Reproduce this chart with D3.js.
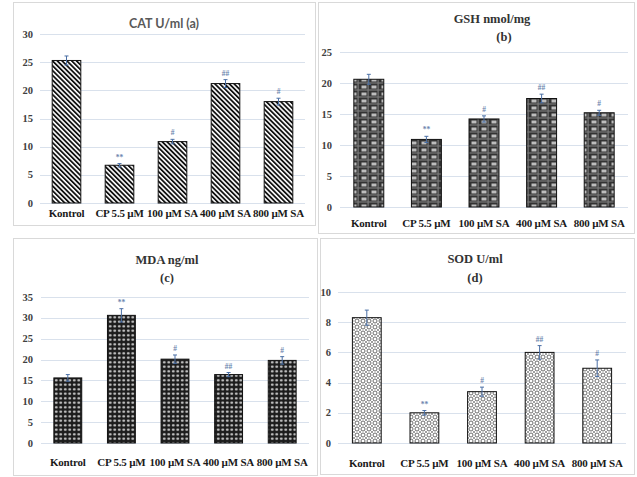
<html>
<head>
  <meta charset="utf-8">
  <title>Antioxidant panels</title>
  <script src="https://d3js.org/d3.v7.min.js"></script>
  <style>
    html, body { margin: 0; padding: 0; background: #fff; overflow: hidden; }
    svg { display: block; }
    .serif { font-family: "Liberation Serif", "Times New Roman", Times, "DejaVu Serif", serif; }
  </style>
</head>
<body>
  <svg width="637" height="477"></svg>
  <script>
    const categories = ["Kontrol", "CP 5.5 µM", "100 µM SA", "400 µM SA", "800 µM SA"];

    const catValues = [25.3, 6.7, 10.9, 21.2, 18.0];
    const catErrors = [0.8, 0.3, 0.4, 0.7, 0.6];
    const catMarks = ["", "**", "#", "##", "#"];

    const gshValues = [20.6, 10.9, 14.2, 17.5, 15.2];
    const gshErrors = [0.8, 0.5, 0.5, 0.7, 0.4];
    const gshMarks = ["", "**", "#", "##", "#"];

    const mdaValues = [15.6, 30.6, 20.1, 16.4, 19.8];
    const mdaErrors = [0.8, 1.6, 1.0, 0.5, 0.9];
    const mdaMarks = ["", "**", "#", "##", "#"];

    const sodValues = [8.3, 2.0, 3.4, 6.0, 4.95];
    const sodErrors = [0.5, 0.15, 0.3, 0.45, 0.55];
    const sodMarks = ["", "**", "#", "##", "#"];

    const svg = d3.select("svg");
    const defs = svg.append("defs");

    // stripes "\\" for CAT
    const pStripe = defs.append("pattern")
      .attr("id", "stripe")
      .attr("patternUnits", "userSpaceOnUse")
      .attr("width", 3.4).attr("height", 3.4)
      .attr("patternTransform", "rotate(-45)");
    pStripe.append("rect").attr("width", 3.4).attr("height", 3.4).attr("fill", "#fff");
    pStripe.append("rect").attr("width", 1.8).attr("height", 3.4).attr("fill", "#111");

    // plaid for GSH
    const pPlaid = defs.append("pattern")
      .attr("id", "plaid")
      .attr("patternUnits", "userSpaceOnUse")
      .attr("width", 10).attr("height", 7);
    pPlaid.append("rect").attr("width", 10).attr("height", 7).attr("fill", "#333");
    pPlaid.append("rect").attr("x", 1.5).attr("y", 1.5).attr("width", 5).attr("height", 3).attr("fill", "#bdbdbd");
    pPlaid.append("rect").attr("x", 0).attr("y", 5.5).attr("width", 10).attr("height", 1).attr("fill", "#858585");
    pPlaid.append("rect").attr("x", 7.5).attr("y", 0).attr("width", 1.2).attr("height", 7).attr("fill", "#7a7a7a");

    // dense circles for MDA
    const pDots = defs.append("pattern")
      .attr("id", "dots")
      .attr("patternUnits", "userSpaceOnUse")
      .attr("width", 4.5).attr("height", 4.5);
    pDots.append("rect").attr("width", 4.5).attr("height", 4.5).attr("fill", "#1c1c1c");
    pDots.append("ellipse").attr("cx", 2.25).attr("cy", 2.25).attr("rx", 1.4).attr("ry", 1.1).attr("fill", "#cfcfcf");

    // open circles for SOD
    const pRings = defs.append("pattern")
      .attr("id", "rings")
      .attr("patternUnits", "userSpaceOnUse")
      .attr("width", 6).attr("height", 6);
    pRings.append("rect").attr("width", 6).attr("height", 6).attr("fill", "#fff");
    pRings.append("circle").attr("cx", 3).attr("cy", 3).attr("r", 2)
      .attr("fill", "none").attr("stroke", "#5a5a5a").attr("stroke-width", 0.9);
    [[0, 0], [6, 0], [0, 6], [6, 6]].forEach(c => {
      pRings.append("circle").attr("cx", c[0]).attr("cy", c[1]).attr("r", 1.1).attr("fill", "#888");
    });

    const panels = [
      { frame: [13, 2, 315, 225], x: [40, 305], y: [203, 34], max: 30, step: 5, pad: 0.46,
        values: catValues, errors: catErrors, marks: catMarks, fill: "url(#stripe)",
        labelY: 217, tickRight: 33,
        titles: [{ t: "CAT U/ml (a)", x: 164, y: 28 }], sansTitle: true },
      { frame: [318, 2, 634, 233], x: [340, 628], y: [207, 52], max: 25, step: 5, pad: 0.48,
        values: gshValues, errors: gshErrors, marks: gshMarks, fill: "url(#plaid)",
        labelY: 227, tickRight: 332,
        titles: [{ t: "GSH nmol/mg", x: 492, y: 23 }, { t: "(b)", x: 504, y: 41 }] },
      { frame: [13, 238, 317, 475], x: [41, 309], y: [443, 297], max: 35, step: 5, pad: 0.48,
        values: mdaValues, errors: mdaErrors, marks: mdaMarks, fill: "url(#dots)",
        labelY: 466, tickRight: 33,
        titles: [{ t: "MDA ng/ml", x: 167, y: 264 }, { t: "(c)", x: 167, y: 282 }] },
      { frame: [320, 238, 634, 474], x: [338, 626], y: [443, 292], max: 10, step: 2, pad: 0.5,
        values: sodValues, errors: sodErrors, marks: sodMarks, fill: "url(#rings)",
        labelY: 467, tickRight: 331,
        titles: [{ t: "SOD U/ml", x: 475, y: 263 }, { t: "(d)", x: 475, y: 282 }] }
    ];

    panels.forEach(p => {
      const g = svg.append("g");
      const [fx0, fy0, fx1, fy1] = p.frame;
      g.append("rect")
        .attr("x", fx0 + 0.5).attr("y", fy0 + 0.5)
        .attr("width", fx1 - fx0).attr("height", fy1 - fy0)
        .attr("fill", "#fff").attr("stroke", "#d9d9d9");

      const x = d3.scaleBand().domain(categories).range(p.x)
        .paddingInner(p.pad).paddingOuter(p.pad / 2);
      const y = d3.scaleLinear().domain([0, p.max]).range(p.y);
      const ticks = d3.range(0, p.max + 0.001, p.step);

      // gridlines
      g.selectAll(".grid").data(ticks).enter().append("line")
        .attr("x1", p.x[0]).attr("x2", p.x[1])
        .attr("y1", d => Math.round(y(d)) + 0.5).attr("y2", d => Math.round(y(d)) + 0.5)
        .attr("stroke", "#d9e1ec").attr("stroke-width", 1);

      // y tick labels
      g.selectAll(".tick").data(ticks).enter().append("text")
        .attr("class", "serif")
        .attr("x", p.tickRight).attr("y", d => y(d) + 3.5)
        .attr("text-anchor", "end")
        .attr("font-weight", "bold")
        .attr("font-size", 10.5).attr("fill", "#404040")
        .text(d => d);

      // bars
      g.selectAll(".bar").data(p.values).enter().append("rect")
        .attr("x", (d, i) => x(categories[i]))
        .attr("y", d => y(d))
        .attr("width", x.bandwidth())
        .attr("height", d => y(0) - y(d))
        .attr("fill", p.fill)
        .attr("stroke", "#111").attr("stroke-width", 1);

      // error bars
      const cx = i => x(categories[i]) + x.bandwidth() / 2;
      const eb = g.selectAll(".err").data(p.values).enter().append("g")
        .attr("stroke", "#4a6fa5").attr("stroke-width", 1);
      eb.append("line")
        .attr("x1", (d, i) => cx(i)).attr("x2", (d, i) => cx(i))
        .attr("y1", (d, i) => y(d - p.errors[i])).attr("y2", (d, i) => y(d + p.errors[i]));
      eb.append("line")
        .attr("x1", (d, i) => cx(i) - 2).attr("x2", (d, i) => cx(i) + 2)
        .attr("y1", (d, i) => y(d + p.errors[i])).attr("y2", (d, i) => y(d + p.errors[i]));
      eb.append("line")
        .attr("x1", (d, i) => cx(i) - 2).attr("x2", (d, i) => cx(i) + 2)
        .attr("y1", (d, i) => y(d - p.errors[i])).attr("y2", (d, i) => y(d - p.errors[i]));

      // significance marks
      g.selectAll(".mark").data(p.values).enter().append("text")
        .attr("class", "serif")
        .attr("x", (d, i) => cx(i))
        .attr("y", (d, i) => y(d + p.errors[i]) - 4)
        .attr("text-anchor", "middle")
        .attr("font-weight", "bold")
        .attr("font-size", 7.5).attr("fill", "#6a84ad")
        .text((d, i) => p.marks[i]);

      // category labels
      g.selectAll(".cat").data(categories).enter().append("text")
        .attr("class", "serif")
        .attr("x", d => x(d) + x.bandwidth() / 2)
        .attr("y", p.labelY)
        .attr("text-anchor", "middle")
        .attr("font-weight", "bold")
        .attr("font-size", 11).attr("fill", "#1a1a1a")
        .attr("letter-spacing", -0.2)
        .text(d => d);

      // titles
      p.titles.forEach(t => {
        g.append("text")
          .attr("class", p.sansTitle ? null : "serif")
          .attr("x", t.x).attr("y", t.y)
          .attr("text-anchor", "middle")
          .attr("font-family", p.sansTitle ? "Lato, sans-serif" : null)
          .attr("font-weight", "bold")
          .attr("font-size", 12.5)
          .attr("fill", p.sansTitle ? "#595959" : "#333")
          .text(t.t);
      });
    });
  </script>
</body>
</html>
